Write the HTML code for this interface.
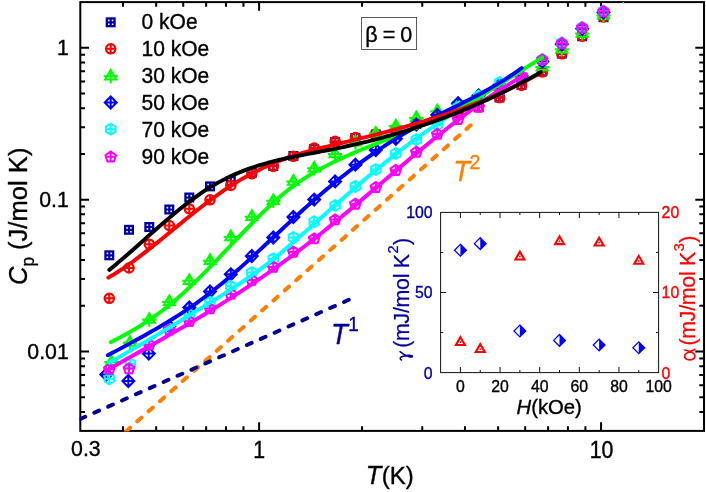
<!DOCTYPE html><html><head><meta charset="utf-8"><title>Cp vs T</title><style>html,body{margin:0;padding:0;background:#fff;overflow:hidden}svg{display:block;font-family:"Liberation Sans",sans-serif}svg{will-change:transform}</style></head><body>
<svg width="706" height="492" viewBox="0 0 706 492">
<rect width="706" height="492" fill="#fff"/>
<defs>
<clipPath id="pc"><rect x="79.7" y="1.5" width="624.9" height="430"/></clipPath>
<g id="sq" fill="none" stroke-width="2.3"><rect x="-3.85" y="-3.85" width="7.7" height="7.7"/><path d="M-4 0H4M0 -4V4" stroke-width="2.2"/></g>
<g id="ci" fill="none" stroke-width="2.3"><circle r="4.65"/><path d="M-4.8 0H4.8M0 -4.8V4.8" stroke-width="2.1"/></g>
<g id="tr" fill="none" stroke-width="2.05"><path d="M0 -6.4L5.54 3.2L-5.54 3.2Z M-7.1 0H7.1M0 -7V7.1"/></g>
<g id="di" fill="none" stroke-width="2.0"><path d="M0 -6L6 0L0 6L-6 0Z M-6 0H6M0 -6V6"/></g>
<g id="he" fill="none" stroke-width="2.0"><path d="M0 -5.45 L4.72 -2.73 L4.72 2.72 L0 5.45 L-4.72 2.73 L-4.72 -2.73Z M-5 0H5M0 -5.5V5.5"/></g>
<g id="pe" fill="none" stroke-width="2.0" stroke-linejoin="round"><path d="M0 -4.8 L5.33 -0.93 L3.29 5.33 L-3.29 5.33 L-5.33 -0.93Z M-5.2 0.6H5.2M0 -4.8V5.2"/></g>
<g id="hd"><path d="M0 -5.9L5.9 0L0 5.9L-5.9 0Z" fill="#fff" stroke="#0000FF" stroke-width="1.25"/><path d="M0 -5.9L5.9 0L0 5.9Z" fill="#0000FF"/></g>
<g id="it"><path d="M0 -5.2L4.5 2.6L-4.5 2.6Z" fill="none" stroke="#FF0000" stroke-width="2.1"/><circle r="0.9" cy="-0.3" fill="#FF0000"/></g>
</defs>
<g stroke="#000" stroke-width="2" fill="none">
<rect x="80.3" y="2.1" width="623.7" height="428.8"/>
<path d="M123.02 430.9v-4.7M123.02 2.1v4.7M156.16 430.9v-4.7M156.16 2.1v4.7M183.24 430.9v-4.7M183.24 2.1v4.7M206.13 430.9v-4.7M206.13 2.1v4.7M225.96 430.9v-4.7M225.96 2.1v4.7M243.46 430.9v-4.7M243.46 2.1v4.7M259.1 430.9v-8.7M259.1 2.1v8.7M362.04 430.9v-4.7M362.04 2.1v4.7M422.26 430.9v-4.7M422.26 2.1v4.7M464.98 430.9v-4.7M464.98 2.1v4.7M498.12 430.9v-4.7M498.12 2.1v4.7M525.2 430.9v-4.7M525.2 2.1v4.7M548.09 430.9v-4.7M548.09 2.1v4.7M567.92 430.9v-4.7M567.92 2.1v4.7M585.41 430.9v-4.7M585.41 2.1v4.7M601.06 430.9v-8.7M601.06 2.1v8.7M80.3 411.93h4.7M704.0 411.93h-4.7M80.3 397.21h4.7M704.0 397.21h-4.7M80.3 385.19h4.7M704.0 385.19h-4.7M80.3 375.02h4.7M704.0 375.02h-4.7M80.3 366.22h4.7M704.0 366.22h-4.7M80.3 358.45h4.7M704.0 358.45h-4.7M80.3 351.5h8.7M704.0 351.5h-8.7M80.3 305.79h4.7M704.0 305.79h-4.7M80.3 279.05h4.7M704.0 279.05h-4.7M80.3 260.08h4.7M704.0 260.08h-4.7M80.3 245.37h4.7M704.0 245.37h-4.7M80.3 233.34h4.7M704.0 233.34h-4.7M80.3 223.18h4.7M704.0 223.18h-4.7M80.3 214.37h4.7M704.0 214.37h-4.7M80.3 206.6h4.7M704.0 206.6h-4.7M80.3 199.66h8.7M704.0 199.66h-8.7M80.3 153.95h4.7M704.0 153.95h-4.7M80.3 127.21h4.7M704.0 127.21h-4.7M80.3 108.24h4.7M704.0 108.24h-4.7M80.3 93.52h4.7M704.0 93.52h-4.7M80.3 81.5h4.7M704.0 81.5h-4.7M80.3 71.33h4.7M704.0 71.33h-4.7M80.3 62.53h4.7M704.0 62.53h-4.7M80.3 54.76h4.7M704.0 54.76h-4.7M80.3 47.81h8.7M704.0 47.81h-8.7"/>
</g>
<g clip-path="url(#pc)">
<g stroke="#0000A0">
<use href="#sq" x="109.3" y="255.3"/>
<use href="#sq" x="129" y="229.8"/>
<use href="#sq" x="149.3" y="227"/>
<use href="#sq" x="169.3" y="209.5"/>
<use href="#sq" x="189.3" y="197.5"/>
<use href="#sq" x="210" y="186.4"/>
<use href="#sq" x="230.8" y="181"/>
<use href="#sq" x="251.8" y="172.7"/>
<use href="#sq" x="273.3" y="166"/>
<use href="#sq" x="293.4" y="156"/>
<use href="#sq" x="314.2" y="149"/>
<use href="#sq" x="335.1" y="142"/>
<use href="#sq" x="355.4" y="138"/>
<use href="#sq" x="375.8" y="134.5"/>
<use href="#sq" x="395.8" y="130"/>
<use href="#sq" x="416.3" y="124"/>
<use href="#sq" x="437.3" y="117"/>
<use href="#sq" x="458.1" y="113"/>
<use href="#sq" x="478.6" y="107.2"/>
<use href="#sq" x="499.5" y="97.5"/>
<use href="#sq" x="521.5" y="85"/>
<use href="#sq" x="542.3" y="71.5"/>
<use href="#sq" x="561.8" y="53.6"/>
<use href="#sq" x="582.2" y="36.2"/>
<use href="#sq" x="603.5" y="17.2"/>
</g>
<g stroke="#FF0000">
<use href="#ci" x="109.3" y="298.3"/>
<use href="#ci" x="129" y="268"/>
<use href="#ci" x="149.3" y="244.2"/>
<use href="#ci" x="169.3" y="225.5"/>
<use href="#ci" x="189.3" y="208.8"/>
<use href="#ci" x="210" y="199.8"/>
<use href="#ci" x="230.8" y="185.4"/>
<use href="#ci" x="251.8" y="173.8"/>
<use href="#ci" x="273.3" y="166.3"/>
<use href="#ci" x="293.4" y="156.3"/>
<use href="#ci" x="314.2" y="148"/>
<use href="#ci" x="335.1" y="141.3"/>
<use href="#ci" x="355.4" y="137.5"/>
<use href="#ci" x="375.8" y="134"/>
<use href="#ci" x="395.8" y="130"/>
<use href="#ci" x="416.3" y="124"/>
<use href="#ci" x="437.3" y="117"/>
<use href="#ci" x="458.1" y="113"/>
<use href="#ci" x="478.6" y="106.5"/>
<use href="#ci" x="499.5" y="97.6"/>
<use href="#ci" x="521.5" y="85.5"/>
<use href="#ci" x="542.3" y="72"/>
<use href="#ci" x="561.8" y="53.8"/>
<use href="#ci" x="582.2" y="36.2"/>
<use href="#ci" x="603.5" y="17"/>
</g>
<g stroke="#00FF00">
<use href="#tr" x="111.4" y="362.1"/>
<use href="#tr" x="129.9" y="342.6"/>
<use href="#tr" x="149.3" y="319.6"/>
<use href="#tr" x="169.3" y="301.9"/>
<use href="#tr" x="189.3" y="280.8"/>
<use href="#tr" x="210" y="260.8"/>
<use href="#tr" x="230.8" y="237"/>
<use href="#tr" x="251.8" y="216.7"/>
<use href="#tr" x="273.3" y="200.8"/>
<use href="#tr" x="293.4" y="181.5"/>
<use href="#tr" x="314.2" y="168.3"/>
<use href="#tr" x="335.1" y="154.1"/>
<use href="#tr" x="355.4" y="142.3"/>
<use href="#tr" x="375.8" y="133.4"/>
<use href="#tr" x="395.8" y="126.3"/>
<use href="#tr" x="416.3" y="118"/>
<use href="#tr" x="437.3" y="111.2"/>
<use href="#tr" x="458.1" y="104.3"/>
<use href="#tr" x="478.6" y="97.3"/>
<use href="#tr" x="499.5" y="86.5"/>
<use href="#tr" x="521.5" y="76.5"/>
<use href="#tr" x="542.3" y="67"/>
<use href="#tr" x="561.8" y="49.3"/>
<use href="#tr" x="582.2" y="33.4"/>
<use href="#tr" x="603.5" y="15.3"/>
</g>
<g stroke="#0000FF">
<use href="#di" x="106.3" y="374.5"/>
<use href="#di" x="128.3" y="381"/>
<use href="#di" x="148.8" y="353.6"/>
<use href="#di" x="169.3" y="326.3"/>
<use href="#di" x="189.3" y="307.5"/>
<use href="#di" x="210" y="291.5"/>
<use href="#di" x="230.8" y="274.3"/>
<use href="#di" x="251.8" y="256"/>
<use href="#di" x="273.3" y="237.5"/>
<use href="#di" x="293.4" y="217"/>
<use href="#di" x="314.2" y="199.6"/>
<use href="#di" x="335.1" y="181.4"/>
<use href="#di" x="355.4" y="164.7"/>
<use href="#di" x="375.8" y="150"/>
<use href="#di" x="395.8" y="138.8"/>
<use href="#di" x="416.3" y="124.7"/>
<use href="#di" x="437.3" y="114.9"/>
<use href="#di" x="458.1" y="103.2"/>
<use href="#di" x="478.6" y="95.4"/>
<use href="#di" x="499.5" y="85"/>
<use href="#di" x="521.5" y="76"/>
<use href="#di" x="542.3" y="61.5"/>
<use href="#di" x="561.8" y="44.3"/>
<use href="#di" x="582.2" y="28.8"/>
<use href="#di" x="603.5" y="12.4"/>
</g>
<g stroke="#00FFFF">
<use href="#he" x="109.3" y="378.8"/>
<use href="#he" x="130.4" y="363.8"/>
<use href="#he" x="149.3" y="344.5"/>
<use href="#he" x="169.3" y="329"/>
<use href="#he" x="189.3" y="314.5"/>
<use href="#he" x="210" y="302"/>
<use href="#he" x="230.8" y="286.3"/>
<use href="#he" x="251.8" y="272.5"/>
<use href="#he" x="273.3" y="258.8"/>
<use href="#he" x="293.4" y="237.5"/>
<use href="#he" x="314.2" y="221.7"/>
<use href="#he" x="335.1" y="205.5"/>
<use href="#he" x="355.4" y="186.4"/>
<use href="#he" x="375.8" y="169.5"/>
<use href="#he" x="395.8" y="153.5"/>
<use href="#he" x="416.3" y="139.7"/>
<use href="#he" x="437.3" y="125"/>
<use href="#he" x="458.1" y="107.4"/>
<use href="#he" x="478.6" y="96"/>
<use href="#he" x="499.5" y="82.5"/>
<use href="#he" x="521.5" y="77"/>
<use href="#he" x="542.3" y="59.5"/>
<use href="#he" x="561.8" y="42.9"/>
<use href="#he" x="582.2" y="27.3"/>
<use href="#he" x="603.5" y="11"/>
</g>
<g stroke="#FF00FF">
<use href="#pe" x="109.3" y="368.5"/>
<use href="#pe" x="129" y="368"/>
<use href="#pe" x="149.3" y="344.2"/>
<use href="#pe" x="169.3" y="329.2"/>
<use href="#pe" x="189.3" y="320.6"/>
<use href="#pe" x="210" y="308"/>
<use href="#pe" x="230.8" y="293.3"/>
<use href="#pe" x="251.8" y="279.5"/>
<use href="#pe" x="273.3" y="266.3"/>
<use href="#pe" x="293.4" y="251.3"/>
<use href="#pe" x="314.2" y="238"/>
<use href="#pe" x="335.1" y="219"/>
<use href="#pe" x="355.4" y="203.3"/>
<use href="#pe" x="375.8" y="186.7"/>
<use href="#pe" x="395.8" y="169.6"/>
<use href="#pe" x="416.3" y="151.4"/>
<use href="#pe" x="437.3" y="133.5"/>
<use href="#pe" x="458.1" y="118.7"/>
<use href="#pe" x="478.6" y="106.3"/>
<use href="#pe" x="499.5" y="89.5"/>
<use href="#pe" x="521.5" y="76.2"/>
<use href="#pe" x="542.3" y="59"/>
<use href="#pe" x="561.8" y="42.7"/>
<use href="#pe" x="582.2" y="27.1"/>
<use href="#pe" x="603.5" y="10.8"/>
</g>
<rect x="622.5" y="2.0" width="1.6" height="1.1" fill="#00FF00"/>
<path d="M114.56 441.5L470.59 125.33" stroke="#FF8000" stroke-width="4" stroke-dasharray="5.6 9.58" stroke-linecap="round" fill="none"/>
<path d="M66.49 425.09L348.73 299.8" stroke="#000096" stroke-width="3.9" stroke-dasharray="5.3 9.88" stroke-linecap="round" fill="none"/>
<path d="M107.5 370.01 L112.2 367.31 L116.9 364.63 L121.61 361.96 L126.31 359.29 L131.01 356.63 L135.71 353.98 L140.42 351.32 L145.12 348.67 L149.82 346.02 L154.52 343.36 L159.22 340.69 L163.93 338.02 L168.63 335.33 L173.33 332.63 L178.03 329.92 L182.74 327.2 L187.44 324.45 L192.14 321.69 L196.84 318.9 L201.54 316.09 L206.25 313.25 L210.95 310.39 L215.65 307.49 L220.35 304.56 L225.06 301.61 L229.76 298.62 L234.46 295.6 L239.16 292.54 L243.87 289.45 L248.57 286.33 L253.27 283.17 L257.97 279.98 L262.67 276.75 L267.38 273.48 L272.08 270.18 L276.78 266.83 L281.48 263.45 L286.19 260.03 L290.89 256.57 L295.59 253.07 L300.29 249.52 L304.99 245.94 L309.7 242.31 L314.4 238.64 L319.1 234.92 L323.8 231.16 L328.51 227.37 L333.21 223.54 L337.91 219.68 L342.61 215.79 L347.31 211.88 L352.02 207.94 L356.72 203.99 L361.42 200.01 L366.12 196.03 L370.83 192.03 L375.53 188.03 L380.23 184.02 L384.93 180.01 L389.63 176.01 L394.34 172.01 L399.04 168.01 L403.74 164.03 L408.44 160.06 L413.15 156.11 L417.85 152.18 L422.55 148.27 L427.25 144.39 L431.96 140.53 L436.66 136.71 L441.36 132.93 L446.06 129.18 L450.76 125.47 L455.47 121.81 L460.17 118.2 L464.87 114.63 L469.57 111.12 L474.28 107.67 L478.98 104.27 L483.68 100.94 L488.38 97.68 L493.08 94.48 L497.79 91.35 L502.49 88.3 L507.19 85.32 L511.89 82.43 L516.6 79.62 L521.3 76.9 L526 74.27" fill="none" stroke="#FF00FF" stroke-width="3.9" stroke-linejoin="round" stroke-linecap="round"/>
<path d="M109.2 362.7 L113.59 360.21 L117.97 357.7 L122.36 355.19 L126.74 352.66 L131.13 350.12 L135.51 347.56 L139.9 345 L144.28 342.42 L148.67 339.83 L153.05 337.23 L157.44 334.62 L161.82 332 L166.21 329.37 L170.6 326.73 L174.98 324.08 L179.37 321.42 L183.75 318.75 L188.14 316.07 L192.52 313.38 L196.91 310.68 L201.29 307.97 L205.68 305.26 L210.06 302.54 L214.45 299.81 L218.83 297.06 L223.22 294.29 L227.61 291.5 L231.99 288.67 L236.38 285.8 L240.76 282.88 L245.15 279.91 L249.53 276.87 L253.92 273.77 L258.3 270.6 L262.69 267.34 L267.07 264 L271.46 260.56 L275.84 257.02 L280.23 253.39 L284.62 249.69 L289 245.93 L293.39 242.13 L297.77 238.31 L302.16 234.46 L306.54 230.59 L310.93 226.71 L315.31 222.82 L319.7 218.93 L324.08 215.04 L328.47 211.15 L332.86 207.27 L337.24 203.4 L341.63 199.54 L346.01 195.7 L350.4 191.87 L354.78 188.06 L359.17 184.28 L363.55 180.52 L367.94 176.8 L372.32 173.1 L376.71 169.44 L381.09 165.82 L385.48 162.23 L389.87 158.7 L394.25 155.2 L398.64 151.76 L403.02 148.37 L407.41 145.04 L411.79 141.76 L416.18 138.55 L420.56 135.39 L424.95 132.3 L429.33 129.25 L433.72 126.25 L438.1 123.3 L442.49 120.38 L446.88 117.49 L451.26 114.64 L455.65 111.81 L460.03 109 L464.42 106.21 L468.8 103.43 L473.19 100.65 L477.57 97.88 L481.96 95.11 L486.34 92.33 L490.73 89.54 L495.11 86.73 L499.5 83.91" fill="none" stroke="#00FFFF" stroke-width="3.9" stroke-linejoin="round" stroke-linecap="round"/>
<path d="M110.7 342.14 L115.55 339.7 L120.4 337.18 L125.26 334.56 L130.11 331.85 L134.96 329.03 L139.81 326.09 L144.66 323.02 L149.51 319.82 L154.37 316.46 L159.22 312.96 L164.07 309.29 L168.92 305.45 L173.77 301.42 L178.62 297.23 L183.48 292.88 L188.33 288.39 L193.18 283.77 L198.03 279.03 L202.88 274.21 L207.73 269.29 L212.59 264.31 L217.44 259.28 L222.29 254.21 L227.14 249.11 L231.99 244 L236.84 238.9 L241.7 233.83 L246.55 228.8 L251.4 223.82 L256.25 218.93 L261.1 214.13 L265.95 209.44 L270.81 204.88 L275.66 200.48 L280.51 196.24 L285.36 192.18 L290.21 188.33 L295.06 184.7 L299.92 181.28 L304.77 178.07 L309.62 175.03 L314.47 172.16 L319.32 169.44 L324.17 166.85 L329.03 164.37 L333.88 161.98 L338.73 159.67 L343.58 157.44 L348.43 155.27 L353.28 153.15 L358.14 151.08 L362.99 149.06 L367.84 147.08 L372.69 145.12 L377.54 143.19 L382.39 141.28 L387.25 139.38 L392.1 137.48 L396.95 135.58 L401.8 133.67 L406.65 131.74 L411.5 129.79 L416.36 127.82 L421.21 125.8 L426.06 123.75 L430.91 121.64 L435.76 119.48 L440.61 117.26 L445.47 114.97 L450.32 112.61 L455.17 110.16 L460.02 107.62 L464.87 105 L469.72 102.29 L474.58 99.52 L479.43 96.67 L484.28 93.78 L489.13 90.83 L493.98 87.84 L498.83 84.82 L503.69 81.77 L508.54 78.71 L513.39 75.64 L518.24 72.57 L523.09 69.51 L527.94 66.47 L532.8 63.44 L537.65 60.45 L542.5 57.51" fill="none" stroke="#00FF00" stroke-width="3.9" stroke-linejoin="round" stroke-linecap="round"/>
<path d="M107.8 355.31 L112.45 352.83 L117.1 350.35 L121.75 347.86 L126.4 345.36 L131.05 342.85 L135.7 340.32 L140.35 337.77 L145 335.18 L149.66 332.56 L154.31 329.9 L158.96 327.2 L163.61 324.44 L168.26 321.63 L172.91 318.76 L177.56 315.82 L182.21 312.81 L186.86 309.72 L191.51 306.56 L196.16 303.3 L200.81 299.95 L205.46 296.51 L210.11 292.97 L214.76 289.31 L219.41 285.56 L224.06 281.72 L228.71 277.79 L233.37 273.79 L238.02 269.72 L242.67 265.59 L247.32 261.4 L251.97 257.17 L256.62 252.9 L261.27 248.6 L265.92 244.28 L270.57 239.94 L275.22 235.6 L279.87 231.25 L284.52 226.92 L289.17 222.6 L293.82 218.3 L298.47 214.04 L303.12 209.81 L307.77 205.63 L312.42 201.51 L317.08 197.44 L321.73 193.44 L326.38 189.51 L331.03 185.64 L335.68 181.84 L340.33 178.1 L344.98 174.44 L349.63 170.83 L354.28 167.3 L358.93 163.83 L363.58 160.42 L368.23 157.09 L372.88 153.82 L377.53 150.63 L382.18 147.5 L386.83 144.44 L391.48 141.45 L396.13 138.53 L400.79 135.67 L405.44 132.89 L410.09 130.18 L414.74 127.54 L419.39 124.97 L424.04 122.47 L428.69 120.02 L433.34 117.61 L437.99 115.24 L442.64 112.9 L447.29 110.58 L451.94 108.26 L456.59 105.94 L461.24 103.61 L465.89 101.26 L470.54 98.88 L475.19 96.46 L479.84 93.99 L484.5 91.46 L489.15 88.86 L493.8 86.18 L498.45 83.42 L503.1 80.56 L507.75 77.59 L512.4 74.51 L517.05 71.3 L521.7 67.96" fill="none" stroke="#0000FF" stroke-width="3.9" stroke-linejoin="round" stroke-linecap="round"/>
<path d="M108.3 277.63 L113.16 274.78 L118.02 271.74 L122.88 268.54 L127.74 265.2 L132.6 261.72 L137.46 258.12 L142.32 254.42 L147.18 250.64 L152.04 246.78 L156.9 242.87 L161.76 238.92 L166.61 234.94 L171.47 230.95 L176.33 226.97 L181.19 223 L186.05 219.06 L190.91 215.15 L195.77 211.29 L200.63 207.49 L205.49 203.75 L210.35 200.1 L215.21 196.54 L220.07 193.08 L224.93 189.73 L229.79 186.5 L234.65 183.4 L239.51 180.45 L244.37 177.62 L249.23 174.92 L254.09 172.35 L258.95 169.9 L263.81 167.57 L268.67 165.36 L273.52 163.27 L278.38 161.29 L283.24 159.42 L288.1 157.66 L292.96 156 L297.82 154.44 L302.68 152.97 L307.54 151.58 L312.4 150.25 L317.26 148.98 L322.12 147.74 L326.98 146.54 L331.84 145.35 L336.7 144.17 L341.56 142.99 L346.42 141.81 L351.28 140.62 L356.14 139.43 L361 138.23 L365.86 137.02 L370.72 135.8 L375.58 134.57 L380.43 133.32 L385.29 132.05 L390.15 130.77 L395.01 129.47 L399.87 128.15 L404.73 126.8 L409.59 125.43 L414.45 124.03 L419.31 122.61 L424.17 121.15 L429.03 119.66 L433.89 118.14 L438.75 116.59 L443.61 115 L448.47 113.37 L453.33 111.7 L458.19 109.98 L463.05 108.23 L467.91 106.43 L472.77 104.58 L477.63 102.68 L482.49 100.74 L487.34 98.74 L492.2 96.68 L497.06 94.58 L501.92 92.41 L506.78 90.19 L511.64 87.9 L516.5 85.55 L521.36 83.14 L526.22 80.66 L531.08 78.12 L535.94 75.5 L540.8 72.82" fill="none" stroke="#FF0000" stroke-width="3.9" stroke-linejoin="round" stroke-linecap="round"/>
<path d="M109.3 269.87 L114.15 265.89 L119 261.82 L123.84 257.67 L128.69 253.46 L133.54 249.21 L138.39 244.92 L143.24 240.62 L148.09 236.31 L152.93 232.02 L157.78 227.75 L162.63 223.53 L167.48 219.36 L172.33 215.26 L177.18 211.24 L182.02 207.32 L186.87 203.52 L191.72 199.84 L196.57 196.3 L201.42 192.91 L206.27 189.69 L211.11 186.66 L215.96 183.81 L220.81 181.14 L225.66 178.65 L230.51 176.31 L235.36 174.13 L240.2 172.09 L245.05 170.19 L249.9 168.42 L254.75 166.76 L259.6 165.21 L264.45 163.77 L269.29 162.42 L274.14 161.15 L278.99 159.96 L283.84 158.83 L288.69 157.76 L293.54 156.74 L298.38 155.76 L303.23 154.81 L308.08 153.88 L312.93 152.97 L317.78 152.06 L322.63 151.15 L327.47 150.23 L332.32 149.29 L337.17 148.32 L342.02 147.31 L346.87 146.27 L351.72 145.2 L356.56 144.1 L361.41 142.95 L366.26 141.78 L371.11 140.57 L375.96 139.32 L380.81 138.03 L385.65 136.71 L390.5 135.35 L395.35 133.96 L400.2 132.52 L405.05 131.05 L409.9 129.53 L414.74 127.98 L419.59 126.38 L424.44 124.75 L429.29 123.07 L434.14 121.36 L438.99 119.6 L443.83 117.8 L448.68 115.95 L453.53 114.06 L458.38 112.13 L463.23 110.16 L468.08 108.14 L472.92 106.07 L477.77 103.96 L482.62 101.8 L487.47 99.6 L492.32 97.34 L497.17 95.05 L502.01 92.7 L506.86 90.3 L511.71 87.86 L516.56 85.37 L521.41 82.82 L526.26 80.23 L531.1 77.59 L535.95 74.89 L540.8 72.15" fill="none" stroke="#000000" stroke-width="3.9" stroke-linejoin="round" stroke-linecap="round"/>
</g>
<text transform="translate(85.9 455.5) scale(1 1.04)" font-size="21.3px" text-anchor="middle" fill="#000" stroke="#000" stroke-width="0.35">0.3</text>
<text transform="translate(259.1 457.7) scale(1 1.1)" font-size="21.3px" text-anchor="middle" fill="#000" stroke="#000" stroke-width="0.35">1</text>
<text transform="translate(601.56 457.7) scale(1 1.1)" font-size="21.3px" text-anchor="middle" fill="#000" stroke="#000" stroke-width="0.35">10</text>
<text transform="translate(68.8 54.91) scale(1 1.05)" font-size="21.3px" text-anchor="end" fill="#000" stroke="#000" stroke-width="0.35">1</text>
<text transform="translate(68.8 206.76) scale(1 1.05)" font-size="21.3px" text-anchor="end" fill="#000" stroke="#000" stroke-width="0.35">0.1</text>
<text transform="translate(68.8 358.6) scale(1 1.05)" font-size="21.3px" text-anchor="end" fill="#000" stroke="#000" stroke-width="0.35">0.01</text>
<text transform="translate(365.8 484) scale(1 1.035)" font-size="24px" text-anchor="start" fill="#000" stroke="#000" stroke-width="0.35"><tspan font-style="italic" font-size="25.5px">T</tspan><tspan dx="0.3">(K)</tspan></text>
<text transform="translate(26.6 285) rotate(-90) scale(1 1.04)" font-size="25.6px" text-anchor="start" fill="#000" stroke="#000" stroke-width="0.35"><tspan font-style="italic">C</tspan><tspan font-size="17px" dy="6.8">p</tspan><tspan dy="-6.8"> (J/mol K)</tspan></text>
<g font-size="21px" fill="#000">
<use href="#sq" x="110.7" y="22.3" stroke="#0000A0"/>
<text transform="translate(141.6 29.45) scale(1 1.06)" font-size="21px" text-anchor="start" fill="#000" stroke="#000" stroke-width="0.35">0 kOe</text>
<use href="#ci" x="110.7" y="48.8" stroke="#FF0000"/>
<text transform="translate(141.6 56.27) scale(1 1.06)" font-size="21px" text-anchor="start" fill="#000" stroke="#000" stroke-width="0.35">10 kOe</text>
<use href="#tr" x="110.7" y="76.3" stroke="#00FF00"/>
<text transform="translate(141.6 83.09) scale(1 1.06)" font-size="21px" text-anchor="start" fill="#000" stroke="#000" stroke-width="0.35">30 kOe</text>
<use href="#di" x="110.7" y="102.5" stroke="#0000FF"/>
<text transform="translate(141.6 109.91) scale(1 1.06)" font-size="21px" text-anchor="start" fill="#000" stroke="#000" stroke-width="0.35">50 kOe</text>
<use href="#he" x="110.7" y="129.2" stroke="#00FFFF"/>
<text transform="translate(141.6 136.73) scale(1 1.06)" font-size="21px" text-anchor="start" fill="#000" stroke="#000" stroke-width="0.35">70 kOe</text>
<use href="#pe" x="110.7" y="156.2" stroke="#FF00FF"/>
<text transform="translate(141.6 163.55) scale(1 1.06)" font-size="21px" text-anchor="start" fill="#000" stroke="#000" stroke-width="0.35">90 kOe</text>
</g>
<rect x="361.6" y="17.5" width="55" height="32" fill="#fff" stroke="#333" stroke-width="0.8"/>
<text transform="translate(365.2 41.5) scale(1 1.0)" font-size="21.5px" text-anchor="start" fill="#000" stroke="#000" stroke-width="0.35"><tspan word-spacing="-0.9">β = 0</tspan></text>
<text transform="translate(331 343.6) scale(1 1.06)" font-size="27.6px" text-anchor="start" fill="#000096" stroke="#000096" stroke-width="0.35"><tspan font-style="italic">T</tspan><tspan font-size="19px" dy="-11.8" dx="0.3">1</tspan></text>
<text transform="translate(453.2 181.1) scale(1 1.06)" font-size="27.6px" text-anchor="start" fill="#FF8000" stroke="#FF8000" stroke-width="0.35"><tspan font-style="italic">T</tspan><tspan font-size="19.5px" dy="-11.4" dx="-0.6">2</tspan></text>
<rect x="440.6" y="212.4" width="218" height="160.2" fill="#fff" stroke="#111" stroke-width="1"/>
<path d="M460.42 372.6v-5.6M460.42 212.4v5.6M480.24 372.6v-2.6M480.24 212.4v2.6M500.05 372.6v-5.6M500.05 212.4v5.6M519.87 372.6v-2.6M519.87 212.4v2.6M539.69 372.6v-5.6M539.69 212.4v5.6M559.51 372.6v-2.6M559.51 212.4v2.6M579.33 372.6v-5.6M579.33 212.4v5.6M599.15 372.6v-2.6M599.15 212.4v2.6M618.96 372.6v-5.6M618.96 212.4v5.6M638.78 372.6v-2.6M638.78 212.4v2.6M440.6 332.55h2.6M658.6 332.55h-2.6M440.6 292.5h5.6M658.6 292.5h-5.6M440.6 252.45h2.6M658.6 252.45h-2.6" stroke="#111" stroke-width="1" fill="none"/>
<use href="#it" x="460.42" y="342.4"/>
<use href="#it" x="480.24" y="349.4"/>
<use href="#it" x="519.87" y="256.9"/>
<use href="#it" x="559.51" y="241.5"/>
<use href="#it" x="599.15" y="242.9"/>
<use href="#it" x="638.78" y="261.1"/>
<use href="#hd" x="460.42" y="250.21"/>
<use href="#hd" x="480.24" y="243.64"/>
<use href="#hd" x="519.87" y="330.95"/>
<use href="#hd" x="559.51" y="340.4"/>
<use href="#hd" x="599.15" y="345.05"/>
<use href="#hd" x="638.78" y="347.77"/>
<text transform="translate(460.42 392.4) scale(1 1.06)" font-size="15.8px" text-anchor="middle" fill="#000" stroke="#000" stroke-width="0.35">0</text>
<text transform="translate(500.05 392.4) scale(1 1.06)" font-size="15.8px" text-anchor="middle" fill="#000" stroke="#000" stroke-width="0.35">20</text>
<text transform="translate(539.69 392.4) scale(1 1.06)" font-size="15.8px" text-anchor="middle" fill="#000" stroke="#000" stroke-width="0.35">40</text>
<text transform="translate(579.33 392.4) scale(1 1.06)" font-size="15.8px" text-anchor="middle" fill="#000" stroke="#000" stroke-width="0.35">60</text>
<text transform="translate(618.96 392.4) scale(1 1.06)" font-size="15.8px" text-anchor="middle" fill="#000" stroke="#000" stroke-width="0.35">80</text>
<text transform="translate(658.6 392.4) scale(1 1.06)" font-size="15.8px" text-anchor="middle" fill="#000" stroke="#000" stroke-width="0.35">100</text>
<text transform="translate(432.6 378.5) scale(1 1.06)" font-size="15.8px" text-anchor="end" fill="#0000A0" stroke="#0000A0" stroke-width="0.35">0</text>
<text transform="translate(432.6 298.4) scale(1 1.06)" font-size="15.8px" text-anchor="end" fill="#0000A0" stroke="#0000A0" stroke-width="0.35">50</text>
<text transform="translate(432.6 218.3) scale(1 1.06)" font-size="15.8px" text-anchor="end" fill="#0000A0" stroke="#0000A0" stroke-width="0.35">100</text>
<text transform="translate(661.6 378.5) scale(1 1.06)" font-size="15.8px" text-anchor="start" fill="#FF0000" stroke="#FF0000" stroke-width="0.35">0</text>
<text transform="translate(661.6 298.4) scale(1 1.06)" font-size="15.8px" text-anchor="start" fill="#FF0000" stroke="#FF0000" stroke-width="0.35">10</text>
<text transform="translate(661.6 218.3) scale(1 1.06)" font-size="15.8px" text-anchor="start" fill="#FF0000" stroke="#FF0000" stroke-width="0.35">20</text>
<text transform="translate(516.5 414.3) scale(1 1.04)" font-size="20.3px" text-anchor="start" fill="#000" stroke="#000" stroke-width="0.35"><tspan font-style="italic">H</tspan>(kOe)</text>
<text transform="translate(409.2 347.8) rotate(-90)" font-size="21.4px" letter-spacing="-0.3" fill="#0000A0" stroke="#0000A0" stroke-width="0.25">(mJ/mol K<tspan font-size="14.5px" dy="-11" dx="0.7">2</tspan><tspan dy="11" dx="0.8">)</tspan></text>
<path transform="translate(408.8 360.4) rotate(-90) scale(0.95 0.85)" d="M0.4 -8.6C1.2 -10.6 3 -10.8 3.8 -8.5C4.6 -6 5.2 -3 5.3 -0.5C5.4 2.5 5 4.3 4.2 4.3C3.4 4.3 3.3 2.5 3.9 0.2C4.8 -3 7 -7.5 9.3 -10.3" fill="none" stroke="#0000A0" stroke-width="1.7" stroke-linecap="round"/>
<text transform="translate(695.2 345.6) rotate(-90)" font-size="21.4px" letter-spacing="-0.3" fill="#FF0000" stroke="#FF0000" stroke-width="0.25">(mJ/mol K<tspan font-size="14.5px" dy="-11" dx="0.7">3</tspan><tspan dy="11" dx="0.8">)</tspan></text>
<path transform="translate(695 360.6) rotate(-90)" d="M10.6 -10.2C9.8 -6.5 8 -0.1 4.6 -0.1C1.9 -0.1 0.8 -2.5 0.8 -5.2C0.8 -8 2.1 -10.4 4.6 -10.4C8 -10.4 9.3 -3.5 11.2 -0.3" fill="none" stroke="#FF0000" stroke-width="1.7" stroke-linecap="round"/>
</svg></body></html>
